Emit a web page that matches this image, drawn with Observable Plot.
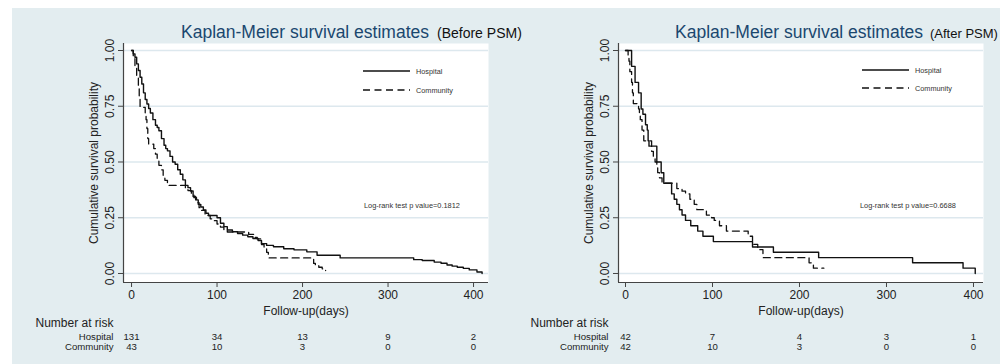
<!DOCTYPE html>
<html>
<head>
<meta charset="utf-8">
<script src="https://cdn.jsdelivr.net/npm/d3@7"></script>
<script src="https://cdn.jsdelivr.net/npm/@observablehq/plot@0.6"></script>
<style>
  html, body { margin: 0; padding: 0; background: #ffffff; }
  #wrap { position: relative; width: 1006px; height: 364px; overflow: hidden; font-family: Arial, "Liberation Sans", sans-serif; }
  #bg { position: absolute; left: 12px; top: 8px; width: 988px; height: 356px; background: #e3edf0; }
  .panel { position: absolute; top: 0; }
  #overlay { position: absolute; left: 0; top: 0; }
</style>
</head>
<body>
<div id="wrap">
  <div id="bg"></div>
  <div id="left" class="panel" style="left:0px"></div>
  <div id="right" class="panel" style="left:500px"></div>
</div>
<script>
// ---------- data ----------
const xTicks = [0, 100, 200, 300, 400];
const yTicks = [0, 0.25, 0.5, 0.75, 1];
const riskTimes = [0, 100, 200, 300, 400];
const groups = ["Hospital", "Community"];

// Before PSM, Hospital (n=131)
const beforeHospT = [0, 2, 4, 6, 8, 10, 12, 14, 16, 18, 20, 22, 25, 28, 30, 32, 35, 38, 40, 42, 45, 48, 51, 54, 57, 60, 63, 66, 69, 72, 75, 78, 81, 84, 87, 90, 100, 104, 108, 112, 118, 124, 130, 136, 142, 148, 152, 158, 166, 178, 190, 205, 217, 244, 330, 340, 354, 362, 369, 375, 381, 388, 395, 404, 410];
const beforeHospS = [1.0, 0.985, 0.97, 0.94, 0.91, 0.88, 0.85, 0.81, 0.78, 0.76, 0.74, 0.72, 0.69, 0.665, 0.655, 0.64, 0.605, 0.575, 0.56, 0.55, 0.525, 0.5, 0.49, 0.465, 0.445, 0.42, 0.395, 0.385, 0.37, 0.345, 0.33, 0.31, 0.298, 0.285, 0.27, 0.26, 0.25, 0.225, 0.21, 0.195, 0.187, 0.179, 0.172, 0.165, 0.157, 0.148, 0.134, 0.126, 0.12, 0.111, 0.106, 0.097, 0.082, 0.07, 0.062, 0.058, 0.051, 0.046, 0.038, 0.033, 0.028, 0.023, 0.016, 0.007, 0.0];

// Before PSM, Community (n=43)
const beforeCommT = [0, 2, 4, 6, 8, 9, 10, 16, 17, 18, 19, 20, 26, 28, 30, 32, 35, 37, 39, 42, 63, 66, 70, 73, 76, 79, 82, 86, 92, 96, 100, 104, 108, 112, 137, 143, 147, 152, 155, 158, 160, 213, 215, 219, 223, 227];
const beforeCommS = [1.0, 0.977, 0.93, 0.88, 0.84, 0.79, 0.745, 0.72, 0.69, 0.65, 0.605, 0.58, 0.56, 0.535, 0.51, 0.485, 0.465, 0.44, 0.418, 0.395, 0.385, 0.372, 0.357, 0.34, 0.318, 0.295, 0.283, 0.26, 0.245, 0.237, 0.222, 0.208, 0.197, 0.186, 0.175, 0.162, 0.155, 0.13, 0.118, 0.095, 0.07, 0.045, 0.036, 0.028, 0.021, 0.013];

// After PSM, Hospital (n=42)
const afterHospT = [0, 7, 11, 15, 18, 20, 23, 25, 26, 27, 36, 41, 44, 53, 56, 59, 62, 65, 69, 75, 83, 89, 101, 146, 170, 222, 330, 388, 402];
const afterHospS = [1.0, 0.929, 0.857, 0.81, 0.738, 0.714, 0.667, 0.643, 0.595, 0.571, 0.5, 0.452, 0.405, 0.357, 0.333, 0.31, 0.286, 0.262, 0.238, 0.214, 0.19, 0.167, 0.143, 0.119, 0.095, 0.071, 0.048, 0.024, 0.0];

// After PSM, Community (n=42)
const afterCommT = [0, 3, 4, 5, 7, 8, 9, 15, 16, 17, 19, 21, 30, 32, 34, 36, 37, 39, 42, 59, 65, 69, 74, 79, 82, 93, 99, 102, 108, 116, 141, 146, 152, 158, 211, 216, 228];
const afterCommS = [1.0, 0.976, 0.952, 0.905, 0.857, 0.81, 0.762, 0.738, 0.714, 0.69, 0.643, 0.595, 0.548, 0.524, 0.5, 0.476, 0.452, 0.429, 0.405, 0.381, 0.369, 0.357, 0.333, 0.31, 0.286, 0.262, 0.25, 0.238, 0.214, 0.19, 0.167, 0.131, 0.107, 0.071, 0.048, 0.024, 0.024];

// Number at risk
const beforeRiskHosp = [131, 34, 13, 9, 2];
const beforeRiskComm = [43, 10, 3, 0, 0];
const afterRiskHosp = [42, 7, 4, 3, 1];
const afterRiskComm = [42, 10, 3, 0, 0];

const titleMain = "Kaplan-Meier survival estimates";
const beforeTag = "(Before PSM)";
const afterTag = "(After PSM)";
const beforeP = "Log-rank test p value=0.1812";
const afterP = "Log-rank test p value=0.6688";

// ---------- drawing ----------
const FONT = 'Arial, "Liberation Sans", sans-serif';
const INK = "#2b2b2b";

function rows(T, S) { return T.map((t, i) => ({t, s: S[i]})); }
function risk(n) { return riskTimes.map((t, i) => ({t, n: n[i]})); }

function panel({width, marginLeft, marginRight, xDomain, hosp, comm, riskH, riskC}) {
  const yDomain = [-0.0404, 1.0314];
  return Plot.plot({
    width, height: 364,
    marginLeft, marginRight, marginTop: 43, marginBottom: 82,
    style: {fontFamily: FONT, background: "transparent", color: INK, overflow: "visible"},
    x: {domain: xDomain, label: "Follow-up(days)"},
    y: {domain: yDomain, label: "Cumulative survival probability"},
    marks: [
      Plot.frame({fill: "white", stroke: null}),
      Plot.gridY(yTicks, {stroke: "#dde8ee", strokeOpacity: 1, strokeWidth: 1.4}),
      Plot.ruleX([xDomain[0]], {stroke: "#444", strokeWidth: 1.2}),
      Plot.ruleY([yDomain[0]], {stroke: "#444", strokeWidth: 1.2}),
      Plot.axisY({ticks: yTicks, tickFormat: d3.format(".2f"), tickRotate: -90, tickSize: 5, tickPadding: 5,
        fontSize: 12, stroke: "#444", fill: "#222", label: "Cumulative survival probability",
        labelAnchor: "center", labelArrow: "none", labelOffset: 34}),
      Plot.axisX({ticks: xTicks, tickSize: 5, tickPadding: 3, fontSize: 12, stroke: "#444", fill: "#222",
        label: "Follow-up(days)", labelAnchor: "center", labelArrow: "none", labelOffset: 32}),
      Plot.line(rows(comm[0], comm[1]), {x: "t", y: "s", curve: "step-after", stroke: "#111", strokeWidth: 1.3, strokeDasharray: "7,4.5"}),
      Plot.line(rows(hosp[0], hosp[1]), {x: "t", y: "s", curve: "step-after", stroke: "#111", strokeWidth: 1.4}),
      // number at risk
      Plot.text(["Number at risk"], {frameAnchor: "bottom-left", dx: -10, dy: 44, textAnchor: "end", fontSize: 12, fill: "#222"}),
      Plot.text([groups[0]], {frameAnchor: "bottom-left", dx: -10, dy: 57, textAnchor: "end", fontSize: 9.6, fill: "#222"}),
      Plot.text([groups[1]], {frameAnchor: "bottom-left", dx: -10, dy: 67, textAnchor: "end", fontSize: 9.6, fill: "#222"}),
      Plot.text(risk(riskH), {x: "t", text: "n", frameAnchor: "bottom", dy: 57, fontSize: 9.6, fill: "#222"}),
      Plot.text(risk(riskC), {x: "t", text: "n", frameAnchor: "bottom", dy: 67, fontSize: 9.6, fill: "#222"})
    ]
  });
}

const left = panel({
  width: 500, marginLeft: 123, marginRight: 12, xDomain: [-9.4, 417.5],
  hosp: [beforeHospT, beforeHospS], comm: [beforeCommT, beforeCommS],
  riskH: beforeRiskHosp, riskC: beforeRiskComm
});
const right = panel({
  width: 506, marginLeft: 118, marginRight: 23, xDomain: [-8.05, 411.5],
  hosp: [afterHospT, afterHospS], comm: [afterCommT, afterCommS],
  riskH: afterRiskHosp, riskC: afterRiskComm
});
document.getElementById("left").appendChild(left);
document.getElementById("right").appendChild(right);

// overlay: titles, legends, log-rank text
const svg = d3.select("#wrap").append("svg").attr("id", "overlay")
  .attr("width", 1006).attr("height", 364)
  .style("font-family", FONT);

function annot(svgSel, cfg) {
  const g = svgSel.append("g");
  g.append("text").attr("x", cfg.titleX).attr("y", 37.5).attr("font-size", 17.5).attr("fill", "#1a476f").text(titleMain);
  g.append("text").attr("x", cfg.tagX).attr("y", 37.5).attr("font-size", cfg.tagSize).attr("fill", "#111").text(cfg.tag);
  // legend
  g.append("line").attr("x1", cfg.legX).attr("x2", cfg.legX + 47).attr("y1", cfg.legY1).attr("y2", cfg.legY1)
    .attr("stroke", "#111").attr("stroke-width", 1.4);
  g.append("line").attr("x1", cfg.legX).attr("x2", cfg.legX + 47).attr("y1", cfg.legY2).attr("y2", cfg.legY2)
    .attr("stroke", "#111").attr("stroke-width", 1.3).attr("stroke-dasharray", "7,4.5");
  g.append("text").attr("x", cfg.legX + 53).attr("y", cfg.legY1 + 2.6).attr("font-size", 7.3).attr("fill", "#333").text(groups[0]);
  g.append("text").attr("x", cfg.legX + 53).attr("y", cfg.legY2 + 2.6).attr("font-size", 7.3).attr("fill", "#333").text(groups[1]);
  g.append("text").attr("x", cfg.pX).attr("y", cfg.pY).attr("font-size", 7.4).attr("fill", "#333").text(cfg.p);
}
annot(svg, {titleX: 181, tagX: 437, tag: beforeTag, tagSize: 14, legX: 363, legY1: 71, legY2: 90, pX: 364, pY: 207.5, p: beforeP});
annot(svg, {titleX: 675, tagX: 930, tag: afterTag, tagSize: 13, legX: 862, legY1: 70, legY2: 88, pX: 860, pY: 208, p: afterP});
</script>
</body>
</html>
